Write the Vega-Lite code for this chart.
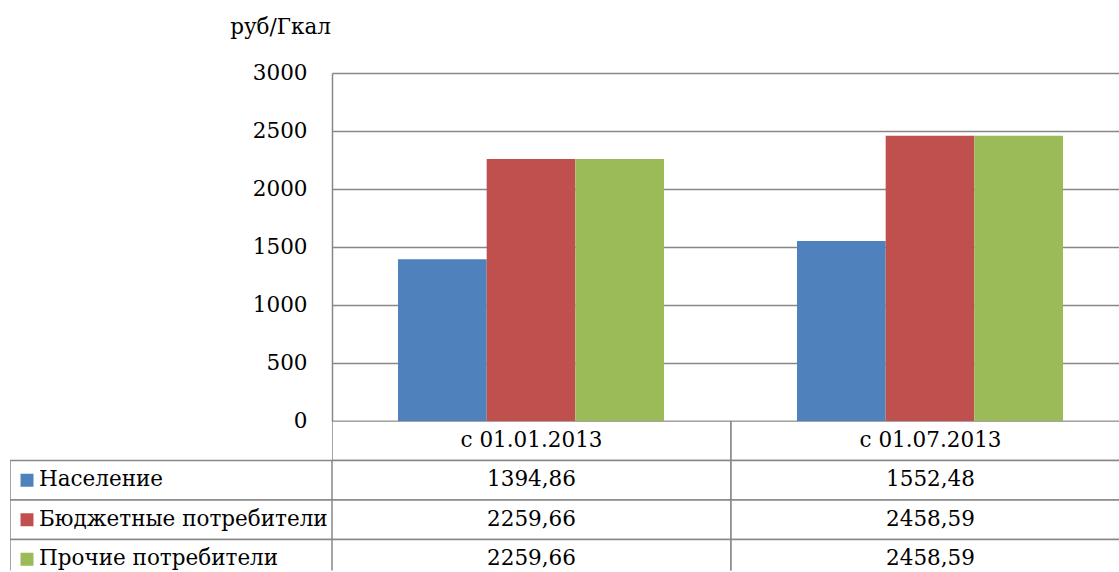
{
  "$schema": "https://vega.github.io/schema/vega-lite/v6.json",
  "padding": {"left": 10, "top": 16, "right": 0, "bottom": 0},
  "background": "white",
  "config": {"view": {"stroke": null}, "font": "DejaVu Serif, serif"},
  "datasets": {
    "d": [
      {"cat": "с 01.01.2013", "series": "Население", "value": 1394.86},
      {"cat": "с 01.07.2013", "series": "Население", "value": 1552.48},
      {"cat": "с 01.01.2013", "series": "Бюджетные потребители", "value": 2259.66},
      {"cat": "с 01.07.2013", "series": "Бюджетные потребители", "value": 2458.59},
      {"cat": "с 01.01.2013", "series": "Прочие потребители", "value": 2259.66},
      {"cat": "с 01.07.2013", "series": "Прочие потребители", "value": 2458.59}
    ],
    "t": [
      {"cat": "с 01.01.2013", "series": " ", "label": "с 01.01.2013"},
      {"cat": "с 01.07.2013", "series": " ", "label": "с 01.07.2013"},
      {"cat": "с 01.01.2013", "series": "Население", "label": "1394,86"},
      {"cat": "с 01.07.2013", "series": "Население", "label": "1552,48"},
      {"cat": "с 01.01.2013", "series": "Бюджетные потребители", "label": "2259,66"},
      {"cat": "с 01.07.2013", "series": "Бюджетные потребители", "label": "2458,59"},
      {"cat": "с 01.01.2013", "series": "Прочие потребители", "label": "2259,66"},
      {"cat": "с 01.07.2013", "series": "Прочие потребители", "label": "2458,59"}
    ],
    "s": [
      {"series": "Население"},
      {"series": "Бюджетные потребители"},
      {"series": "Прочие потребители"}
    ],
    "e": [{"blank": ""}]
  },
  "columns": 2,
  "spacing": 0,
  "bounds": "flush",
  "resolve": {"scale": {"x": "independent", "y": "independent"}},
  "concat": [
    {
      "width": 322,
      "height": 348,
      "data": {"name": "e"},
      "mark": {"type": "text"},
      "encoding": {"text": {"field": "blank"}}
    },
    {
      "width": 787,
      "height": 348,
      "data": {"name": "d"},
      "mark": {"type": "bar"},
      "encoding": {
        "x": {
          "field": "cat", "type": "nominal", "sort": null,
          "scale": {"type": "band", "paddingInner": 0.3333, "paddingOuter": 0.1529, "align": 0.541},
          "axis": {"title": null, "labels": false, "ticks": false, "domainColor": "#878787", "domainWidth": 1.5}
        },
        "xOffset": {
          "field": "series", "type": "nominal",
          "sort": ["Население", "Бюджетные потребители", "Прочие потребители"],
          "scale": {"paddingInner": 0, "paddingOuter": 0}
        },
        "y": {
          "field": "value", "type": "quantitative",
          "scale": {"domain": [0, 3000], "nice": false},
          "axis": {
            "values": [0, 500, 1000, 1500, 2000, 2500, 3000],
            "format": "d",
            "title": "руб/Гкал",
            "titleAngle": 0, "titleX": -52, "titleY": -46, "titleAlign": "center", "titleBaseline": "middle",
            "titleFontWeight": "normal", "titleFontSize": 21.5, "titleColor": "black",
            "labelFontSize": 21.5, "labelColor": "black", "labelPadding": 25,
            "ticks": false, "domainColor": "#878787", "domainWidth": 1.5,
            "gridColor": "#878787", "gridWidth": 1.5
          }
        },
        "color": {
          "field": "series", "type": "nominal",
          "scale": {"domain": ["Население", "Бюджетные потребители", "Прочие потребители"], "range": ["#4F81BD", "#C0504D", "#9BBB59"]},
          "legend": null
        }
      }
    },
    {
      "width": 322,
      "height": 149.5,
      "data": {"name": "s"},
      "encoding": {
        "y": {
          "field": "series", "type": "nominal",
          "scale": {"type": "band", "domain": [" ", "Население", "Бюджетные потребители", "Прочие потребители"], "range": [0, 158], "paddingInner": 0, "paddingOuter": 0},
          "axis": null
        }
      },
      "layer": [
        {"mark": {"type": "rect", "fill": "white", "stroke": "#878787", "strokeWidth": 1.5, "clip": true}},
        {
          "mark": {"type": "point", "shape": "square", "filled": true, "size": 169, "xOffset": -144, "opacity": 1},
          "encoding": {
            "color": {
              "field": "series", "type": "nominal",
              "scale": {"domain": ["Население", "Бюджетные потребители", "Прочие потребители"], "range": ["#4F81BD", "#C0504D", "#9BBB59"]},
              "legend": null
            }
          }
        },
        {
          "mark": {"type": "text", "align": "left", "dx": -132, "fontSize": 21.5, "color": "black"},
          "encoding": {"text": {"field": "series"}}
        }
      ]
    },
    {
      "width": 787,
      "height": 149.5,
      "data": {"name": "t"},
      "encoding": {
        "x": {
          "field": "cat", "type": "nominal", "sort": null,
          "scale": {"type": "band", "range": [0, 798], "paddingInner": 0, "paddingOuter": 0},
          "axis": null
        },
        "y": {
          "field": "series", "type": "nominal",
          "scale": {"type": "band", "domain": [" ", "Население", "Бюджетные потребители", "Прочие потребители"], "range": [0, 158], "paddingInner": 0, "paddingOuter": 0},
          "axis": null
        }
      },
      "layer": [
        {"mark": {"type": "rect", "fill": "white", "stroke": "#878787", "strokeWidth": 1.5, "clip": true}},
        {
          "mark": {"type": "text", "fontSize": 21.5, "color": "black"},
          "encoding": {"text": {"field": "label"}}
        }
      ]
    }
  ]
}
